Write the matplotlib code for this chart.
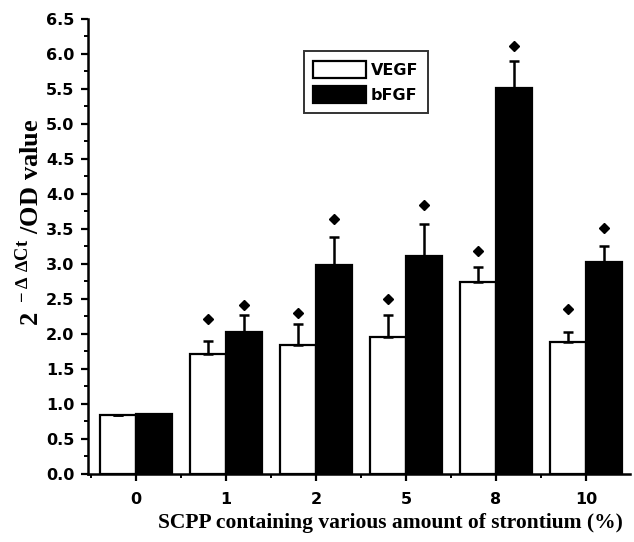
import matplotlib
matplotlib.use("Agg")
import matplotlib.pyplot as plt
import numpy as np
from matplotlib.ticker import FixedLocator, MultipleLocator

# values
categories = ["0", "1", "2", "5", "8", "10"]
vegf = [0.84, 1.72, 1.84, 1.95, 2.74, 1.89]
vegf_err = [0.0, 0.18, 0.30, 0.32, 0.21, 0.14]
bfgf = [0.85, 2.03, 2.98, 3.11, 5.51, 3.03]
bfgf_err = [0.0, 0.24, 0.41, 0.46, 0.39, 0.23]
# significance markers (diamonds) above bars
vegf_sig = [np.nan, 2.21, 2.30, 2.50, 3.19, 2.36]
bfgf_sig = [np.nan, 2.41, 3.64, 3.84, 6.12, 3.52]

plt.rcParams["mathtext.fontset"] = "custom"
plt.rcParams["mathtext.rm"] = "Liberation Serif"

fig = plt.figure(figsize=(6.34, 5.42), dpi=100)
ax = fig.add_axes([0.139, 0.1255, 0.855, 0.8395])

x = np.arange(len(categories))
w = 0.4
lw = 1.6

ax.bar(x - w / 2, vegf, w, color="white", edgecolor="black", linewidth=lw, label="VEGF", zorder=2)
ax.bar(x + w / 2, bfgf, w, color="black", edgecolor="black", linewidth=lw, label="bFGF", zorder=2)

zeros = np.zeros(len(x))
ax.errorbar(x - w / 2, vegf, yerr=[zeros, vegf_err], fmt="none", ecolor="black",
            elinewidth=1.8, capsize=3.5, capthick=1.8, zorder=3)
ax.errorbar(x + w / 2, bfgf, yerr=[zeros, bfgf_err], fmt="none", ecolor="black",
            elinewidth=1.8, capsize=3.5, capthick=1.8, zorder=3)

ax.plot(x - w / 2, vegf_sig, "D", color="black", markersize=5, zorder=4)
ax.plot(x + w / 2, bfgf_sig, "D", color="black", markersize=5, zorder=4)

ax.set_xlim(-0.53, 5.49)
ax.set_ylim(0, 6.5)

ax.set_xticks(x)
ax.set_xticklabels(categories)
ax.xaxis.set_minor_locator(FixedLocator(np.arange(-0.5, 5.6, 1.0)))
ax.yaxis.set_major_locator(MultipleLocator(0.5))
ax.yaxis.set_minor_locator(MultipleLocator(0.25))
ax.set_yticklabels([f"{v:.1f}" for v in ax.get_yticks()])

for lab in ax.get_xticklabels() + ax.get_yticklabels():
    lab.set_fontfamily("DejaVu Sans")
    lab.set_fontweight("bold")
    lab.set_fontsize(11.5)

ax.tick_params(axis="both", which="major", direction="out", length=5, width=1.6)
ax.tick_params(axis="both", which="minor", direction="out", length=3, width=1.4)
ax.tick_params(axis="x", pad=8)
ax.tick_params(axis="y", pad=5)

for side in ["top", "right"]:
    ax.spines[side].set_visible(False)
for side in ["left", "bottom"]:
    ax.spines[side].set_linewidth(1.8)

ax.set_xlabel("SCPP containing various amount of strontium (%)", family="Liberation Serif",
              fontweight="bold", fontsize=15.5)
ax.xaxis.set_label_coords(0.557, -0.085)
ax.set_ylabel("2$^{\\mathregular{\\ -\u2206\\ \u2206Ct}}$ /OD value", family="Liberation Serif",
              fontweight="bold", fontsize=19)
ax.yaxis.set_label_coords(-0.083, 0.554)

leg = ax.legend(loc="upper left", bbox_to_anchor=(0.383, 0.947), frameon=True, fancybox=False,
                edgecolor="black", handlelength=3.3, handleheight=1.3, handletextpad=0.3,
                borderpad=0.6, labelspacing=0.5,
                prop={"family": "DejaVu Sans", "weight": "bold", "size": 11.5})
leg.get_frame().set_linewidth(1.4)

fig.savefig("out.png", dpi=100)
